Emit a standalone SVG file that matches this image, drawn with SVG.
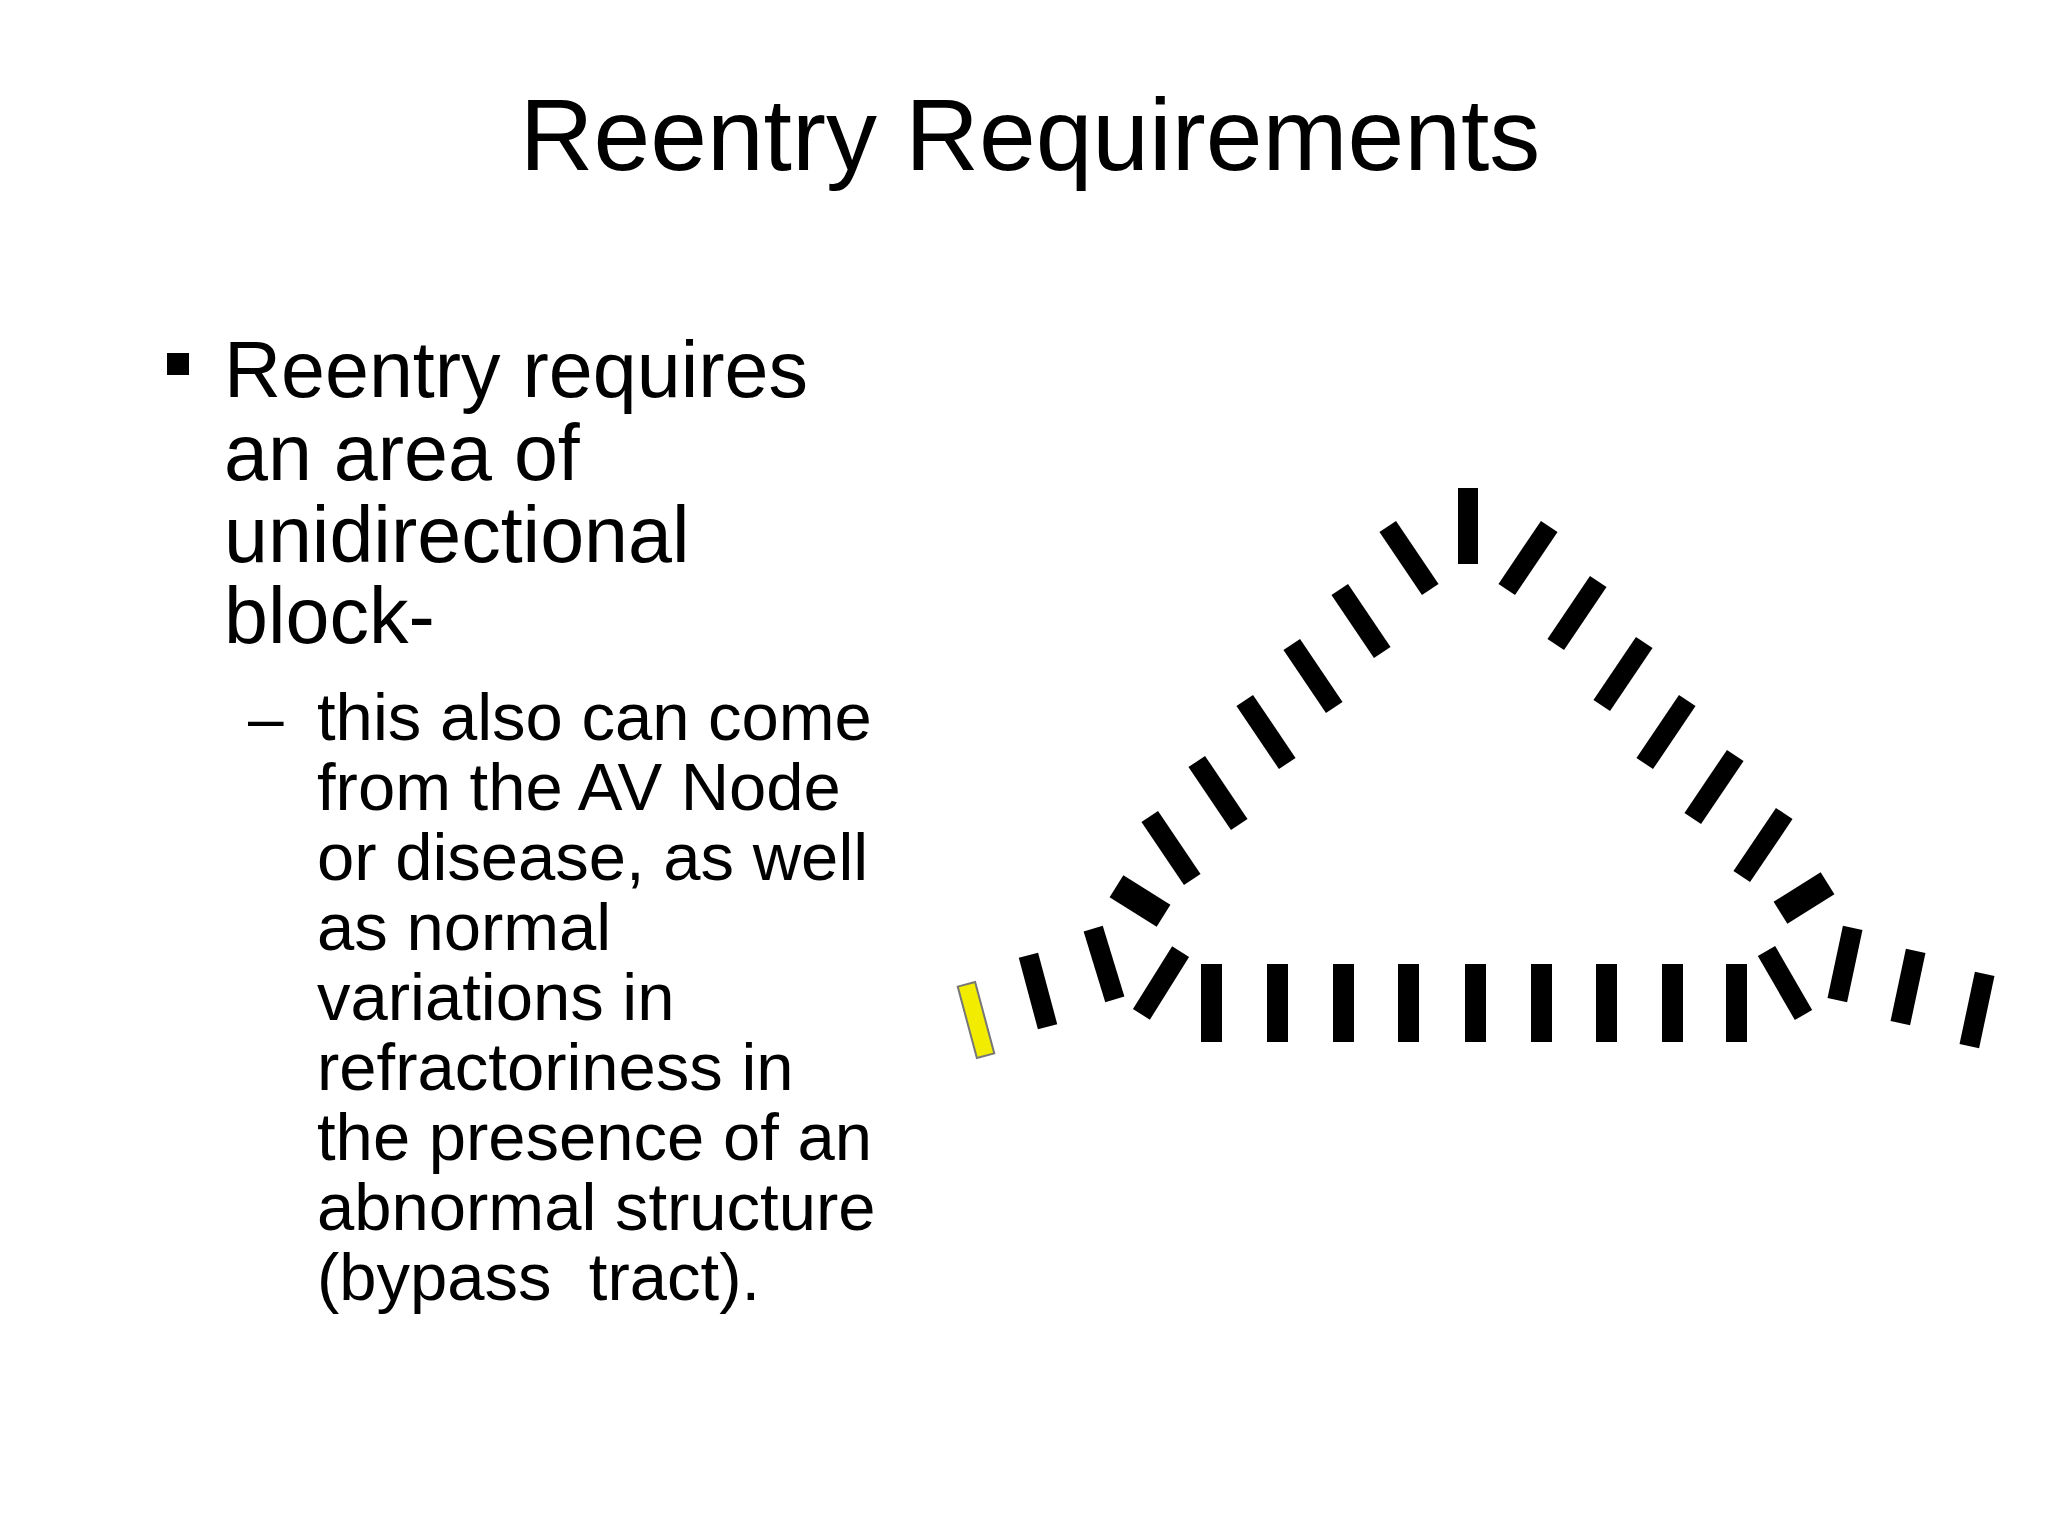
<svg xmlns="http://www.w3.org/2000/svg" width="2048" height="1536" viewBox="0 0 2048 1536">
<style>
.t{font-family:"Liberation Sans",Arial,sans-serif;fill:#000}
.b{fill:#000}
</style>
<defs>
<rect id="d" x="-10" y="-38" width="20" height="76"/>
<rect id="s" x="-10" y="-37" width="20" height="74"/>
</defs>
<rect width="2048" height="1536" fill="#fff"/>
<text class="t" x="1030" y="170" font-size="102" text-anchor="middle">Reentry Requirements</text>
<g id="text">
<rect x="167" y="353" width="22" height="22"/>
<text class="t" font-size="79"><tspan x="224" y="397">Reentry requires</tspan><tspan x="224" y="480">an area of</tspan><tspan x="224" y="562">unidirectional</tspan><tspan x="224" y="643">block-</tspan></text>
<text class="t" x="248" y="740" font-size="64">–</text>
<text class="t" font-size="67" xml:space="preserve"><tspan x="317" y="740">this also can come</tspan><tspan x="317" y="810">from the AV Node</tspan><tspan x="317" y="880">or disease, as well</tspan><tspan x="317" y="950">as normal</tspan><tspan x="317" y="1020">variations in</tspan><tspan x="317" y="1090">refractoriness in</tspan><tspan x="317" y="1160">the presence of an</tspan><tspan x="317" y="1230">abnormal structure</tspan><tspan x="317" y="1300">(bypass  tract).</tspan></text>
</g>
<g id="bars" class="b" transform="translate(-14,-10)">
<use href="#d" transform="translate(1482,536)"/>
<use href="#d" transform="translate(1423,568) rotate(-34)"/>
<use href="#d" transform="translate(1375,631) rotate(-34)"/>
<use href="#d" transform="translate(1327,686) rotate(-34)"/>
<use href="#d" transform="translate(1280,742) rotate(-34)"/>
<use href="#d" transform="translate(1232,803) rotate(-34)"/>
<use href="#d" transform="translate(1185,858) rotate(-34)"/>
<use href="#s" transform="translate(1154,911) rotate(-58) scale(1.3,0.75)"/>
<use href="#s" transform="translate(1118,974) rotate(-17)"/>
<use href="#s" transform="translate(1175,993) rotate(32)"/>
<use href="#s" transform="translate(1052,1001) rotate(-15)"/>
<rect x="-9" y="-37" width="18" height="74" fill="#f2ec00" stroke="#777" stroke-width="2" transform="translate(990,1030) rotate(-15)"/>
<use href="#d" transform="translate(1542,568) rotate(34)"/>
<use href="#d" transform="translate(1591,623) rotate(34)"/>
<use href="#d" transform="translate(1637,684) rotate(34)"/>
<use href="#d" transform="translate(1680,742) rotate(34)"/>
<use href="#d" transform="translate(1728,797) rotate(34)"/>
<use href="#d" transform="translate(1777,855) rotate(34)"/>
<use href="#s" transform="translate(1818,908) rotate(58) scale(1.3,0.75)"/>
<use href="#s" transform="translate(1799,993) rotate(-30)"/>
<use href="#s" transform="translate(1859,974) rotate(12)"/>
<use href="#s" transform="translate(1922,997) rotate(12)"/>
<use href="#s" transform="translate(1991,1020) rotate(12)"/>
<rect x="1215" y="974" width="21" height="78"/>
<rect x="1281" y="974" width="21" height="78"/>
<rect x="1347" y="974" width="21" height="78"/>
<rect x="1412" y="974" width="21" height="78"/>
<rect x="1479" y="974" width="21" height="78"/>
<rect x="1545" y="974" width="21" height="78"/>
<rect x="1610" y="974" width="21" height="78"/>
<rect x="1676" y="974" width="21" height="78"/>
<rect x="1740" y="974" width="21" height="78"/>
</g>
</svg>
